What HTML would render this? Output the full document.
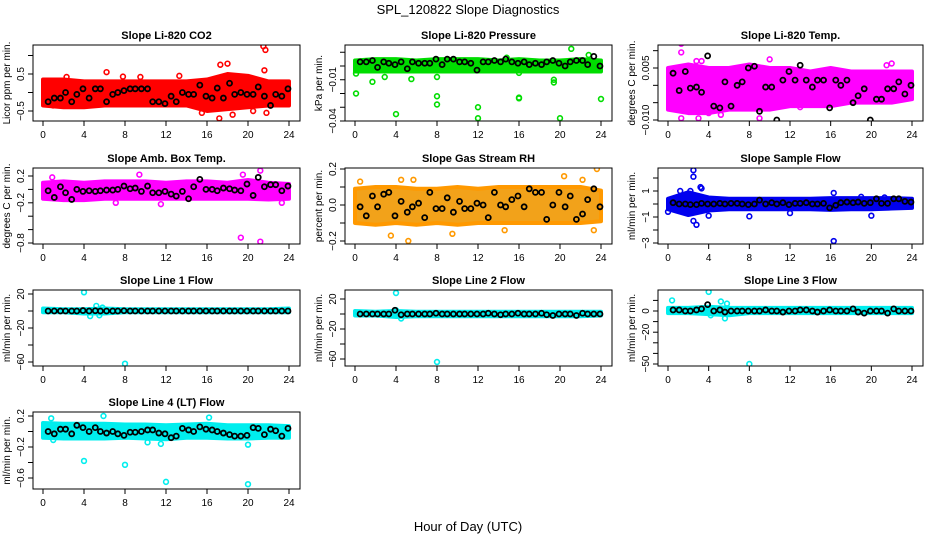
<!DOCTYPE html>
<html><head><meta charset="utf-8">
<style>
body{margin:0;background:#fff;}
svg{display:block;font-family:"Liberation Sans",sans-serif;}
</style></head>
<body>
<svg id="chart" width="936" height="540" viewBox="0 0 936 540">
<text x="468" y="14" text-anchor="middle" font-size="13">SPL_120822  Slope Diagnostics</text>
<text x="468" y="531" text-anchor="middle" font-size="13">Hour of Day (UTC)</text>
</svg>
<script>
const xTicks = [0,4,8,12,16,20,24];
const blackHours = [0.5,1.1,1.7,2.2,2.8,3.3,3.9,4.5,5.1,5.6,6.2,6.8,7.3,7.9,8.5,9.0,9.6,10.2,10.7,11.3,11.9,12.5,13.0,13.6,14.2,14.7,15.3,15.9,16.5,17.0,17.6,18.2,18.7,19.3,19.9,20.5,21.0,21.6,22.2,22.7,23.3,23.9];
const bandHours = [0,2,4,6,8,10,12,14,16,18,20,22,24];

const co2Black = [-0.25,-0.15,-0.15,0.0,-0.25,-0.05,0.1,-0.15,0.1,0.1,-0.25,-0.05,0.0,0.05,0.1,0.1,0.1,0.1,-0.25,-0.25,-0.3,-0.1,-0.25,0.0,-0.05,-0.05,0.2,-0.1,-0.15,0.12,-0.15,0.25,-0.05,0.0,-0.05,-0.05,0.15,-0.1,-0.35,-0.05,-0.1,0.1];
const co2Hi = [0.35,0.35,0.3,0.3,0.3,0.3,0.3,0.3,0.35,0.5,0.45,0.3,0.3];
const co2Lo = [-0.35,-0.4,-0.4,-0.35,-0.35,-0.35,-0.35,-0.35,-0.5,-0.45,-0.4,-0.35,-0.35];
const co2OutX = [6.2,21.5,21.7,17.2,15.5,18.5,17.3,18,21.6,20.5,21.8,13.3,9.5,2.3,7.8,1,4];
const co2OutY = [0.55,1.25,1.15,-0.7,-0.55,-0.6,0.75,0.78,0.6,-0.5,-0.55,0.45,0.42,0.42,0.43,-0.35,-0.3];

const presBlack = [0.003,0.003,0.004,-0.001,0.003,0.002,0.001,0.003,-0.002,0.003,0.002,0.002,0.002,0.005,0.001,0.005,0.005,0.003,0.003,0.002,-0.003,0.003,0.003,0.004,0.003,0.005,0.003,0.002,0.003,0.001,0.002,0.001,0.003,0.004,0.002,0.0,0.003,0.004,0.004,0.001,0.007,0.0];
const presHi = [0.004,0.005,0.005,0.004,0.005,0.005,0.005,0.004,0.005,0.004,0.004,0.005,0.004];
const presLo = [-0.004,-0.004,-0.004,-0.004,-0.004,-0.004,-0.004,-0.004,-0.004,-0.004,-0.004,-0.004,-0.004];
const presOutX = [0.1,0.1,1.7,2.9,4,5.5,8,8,8,12,12,16,16,19.4,19.4,20,21.1,22.8,24,14.8,16];
const presOutY = [-0.0055,-0.02,-0.0115,-0.008,-0.035,-0.0095,-0.022,-0.028,-0.008,-0.03,-0.038,-0.023,-0.0235,-0.01,-0.012,-0.038,0.0125,0.008,-0.024,0.006,-0.005];

const tempBlack = [0.0035,-0.0015,0.004,-0.0008,-0.0005,-0.002,0.0085,-0.006,-0.0065,0.001,-0.006,0.0,0.001,0.005,0.0055,-0.0075,-0.0005,-0.0005,-0.01,0.0015,0.004,0.0015,0.0058,0.0015,-0.0005,0.0015,0.0015,-0.0065,0.0015,0.0,0.0015,-0.005,-0.003,-0.001,-0.01,-0.004,-0.004,-0.001,-0.001,0.001,-0.0025,0.0];
const tempHi = [0.005,0.006,0.005,0.005,0.006,0.005,0.005,0.004,0.005,0.004,0.004,0.004,0.004];
const tempLo = [-0.007,-0.008,-0.008,-0.007,-0.007,-0.007,-0.006,-0.006,-0.006,-0.005,-0.005,-0.005,-0.004];
const tempOutX = [1.3,1.3,3.3,2.8,10,1.3,3,5.2,9,4,22,21.5,13];
const tempOutY = [0.012,0.0095,0.007,0.007,0.0075,-0.0095,-0.0095,-0.0085,-0.0095,-0.008,0.0063,0.0058,-0.0063];

const ambBlack = [-0.02,-0.12,0.04,-0.05,-0.15,0.0,-0.03,-0.02,-0.03,-0.02,-0.01,-0.01,0.0,0.05,0.01,0.02,-0.03,0.05,-0.05,-0.05,-0.03,-0.07,-0.1,-0.03,-0.14,0.04,0.15,0.0,0.0,-0.02,0.02,0.01,-0.01,-0.02,0.08,-0.09,0.18,0.04,0.07,0.07,-0.02,0.05];
const ambHi = [0.1,0.12,0.1,0.12,0.12,0.12,0.1,0.12,0.12,0.1,0.14,0.1,0.08];
const ambLo = [-0.14,-0.16,-0.16,-0.14,-0.14,-0.14,-0.14,-0.14,-0.14,-0.14,-0.14,-0.15,-0.14];
const ambOutX = [0.9,9.4,19.3,21.2,21.2,7.1,11.5,23.3,19.5];
const ambOutY = [0.18,0.22,-0.72,-0.78,0.28,-0.2,-0.22,-0.2,0.22];

const rhBlack = [-0.01,-0.06,0.05,-0.01,0.06,0.07,-0.06,0.02,-0.04,-0.01,0.01,-0.07,0.07,-0.02,-0.02,0.04,-0.04,0.02,-0.02,-0.02,0.01,0.0,-0.07,0.07,0.0,-0.01,0.03,0.05,-0.01,0.09,0.07,0.07,-0.08,0.0,0.07,-0.01,0.05,-0.08,-0.05,0.03,0.09,-0.01];
const rhHi = [0.09,0.1,0.1,0.09,0.09,0.1,0.09,0.1,0.1,0.1,0.1,0.1,0.08];
const rhLo = [-0.1,-0.11,-0.1,-0.11,-0.1,-0.11,-0.1,-0.1,-0.1,-0.1,-0.1,-0.1,-0.09];
const rhOutX = [0.5,3.5,5.2,9.5,14.6,23.6,20.4,22.2,5.7,4.5,23.3];
const rhOutY = [0.13,-0.17,-0.2,-0.16,-0.14,0.2,0.16,0.14,0.14,0.14,-0.14];

const flowBlack = [0.1,0.0,0.0,-0.05,-0.05,0.05,0.0,0.0,0.05,0.0,0.05,0.05,0.0,-0.05,0.0,0.3,0.0,0.1,0.0,0.1,-0.05,0.05,0.05,0.1,0.0,0.0,0.05,-0.3,-0.1,0.1,0.15,0.1,0.15,0.05,0.1,0.4,0.05,0.05,0.4,0.4,0.2,0.15];
const flowHi = [0.4,0.9,0.5,0.4,0.4,0.4,0.4,0.4,0.45,0.45,0.45,0.45,0.4];
const flowLo = [-0.4,-0.85,-0.5,-0.4,-0.4,-0.4,-0.4,-0.4,-0.45,-0.4,-0.4,-0.35,-0.3];
const flowOutX = [2.5,2.5,2.5,2.8,3.2,4,8,16.3,16.3,20,0,19,21.3,12,1.2,2.2,3.3];
const flowOutY = [2.6,2.1,-1.3,-1.6,1.3,-0.9,-0.95,-2.85,0.85,-0.9,-0.6,0.55,0.5,-0.7,1.0,1.0,1.2];

const l1Black = [0,0,0,0,0,0,0.5,0,0.3,0,0,0,0,0.3,0,0,0,0,0,0,0,0,0,0,0,0,0,0,0,0,0,0,0,0,0,0,0,0,0,0,0,0];
const l1Hi = [3,2,2,3,2,2,2,2,2,2,2,2,3];
const l1Lo = [-1.5,-1.5,-3,-3,-1.5,-1.5,-1.5,-1.5,-1.5,-1.5,-1.5,-1.5,-1.5];
const l1OutX = [4,5.2,5.8,4.6,5.5,8];
const l1OutY = [22,6,4,-6,-5,-62];

const l2Black = [0,0,0,0,0,0,5,-1,0,0,0,0,0,1,0,0,0,0,0,0,0,0,1,0,-1,0,0,1,0,0,0,1,-1,-2,0,0,0,-2,1,0,0,0];
const l2Hi = [4,3,4,3,3,3,3,3,3,3,3,3,3];
const l2Lo = [-2,-2,-4,-3,-3,-3,-3,-3,-3,-3,-3,-3,-2];
const l2OutX = [4,8,4.5,4];
const l2OutY = [28,-64,-6,5];

const l3Black = [1,1,0,0,1,2,6,0,1,-1,0,0,0,0,0,0,1,0,0,-1,0,0,1,1,0,-1,0,1,0,0,0,2,-1,-2,0,0,0,-2,2,0,0,0];
const l3Hi = [3,3,4,3,3,3,3,3,3,3,3,3,3];
const l3Lo = [-2,-2,-3,-4,-2,-2,-2,-2,-2,-2,-2,-2,-2];
const l3OutX = [0.4,4,5.2,5.8,5.6,4.2,8];
const l3OutY = [10,18,9,7,-7,-4,-50];

const l4Black = [0.0,-0.03,0.03,0.03,-0.03,0.08,0.05,0.0,0.05,0.0,-0.02,0.0,-0.03,-0.05,-0.01,-0.01,0.0,0.02,0.02,-0.02,-0.03,-0.08,-0.06,0.04,0.02,0.0,0.06,0.03,0.02,0.0,-0.02,-0.04,-0.06,-0.06,-0.05,0.05,0.04,-0.04,0.03,0.01,-0.06,0.04];
const l4Hi = [0.11,0.1,0.1,0.1,0.09,0.09,0.08,0.09,0.1,0.08,0.08,0.08,0.07];
const l4Lo = [-0.08,-0.09,-0.09,-0.09,-0.08,-0.09,-0.1,-0.08,-0.08,-0.09,-0.09,-0.08,-0.08];
const l4OutX = [0.8,5.9,16.2,4,8,12,20,1,10.2,11.5,20];
const l4OutY = [0.17,0.2,0.18,-0.38,-0.43,-0.65,-0.68,-0.11,-0.14,-0.16,-0.17];

const NS='http://www.w3.org/2000/svg';
const svg=document.getElementById('chart');
function mk(tag,attrs,parent){const e=document.createElementNS(NS,tag);for(const k in attrs)e.setAttribute(k,attrs[k]);(parent||svg).appendChild(e);return e;}

const cols=[[33,300],[345,612],[658,923]];
const rows=[[45,121],[168,244],[290,366],[412,489]];

const panels=[
 {slug:'co2',title:'Slope Li-820 CO2',ylab:'Licor ppm per min.',c:0,r:0,v1:0.5,p1:74,v2:-0.5,p2:111,ticks:[1,0.5,0,-0.5],labels:['','0.5','','\u22120.5'],color:'#ff0000',hi:co2Hi,lo:co2Lo,ox:co2OutX,oy:co2OutY,blk:co2Black},
 {slug:'pressure',title:'Slope Li-820 Pressure',ylab:'kPa per min.',c:1,r:0,v1:0,p1:66,v2:-0.04,p2:121,ticks:[0.01,0,-0.01,-0.02,-0.03,-0.04],labels:['','','\u22120.01','','','\u22120.04'],color:'#00dd00',hi:presHi,lo:presLo,ox:presOutX,oy:presOutY,blk:presBlack},
 {slug:'li820-temp',title:'Slope Li-820 Temp.',ylab:'degrees C per min.',c:2,r:0,v1:0.005,p1:68,v2:-0.01,p2:120,ticks:[0.01,0.005,0,-0.005,-0.01],labels:['','0.005','','','\u22120.010'],color:'#ff00ff',hi:tempHi,lo:tempLo,ox:tempOutX,oy:tempOutY,blk:tempBlack},
 {slug:'amb-box-temp',title:'Slope Amb. Box Temp.',ylab:'degrees C per min.',c:0,r:1,v1:0.2,p1:176,v2:-0.8,p2:243,ticks:[0.2,0,-0.2,-0.4,-0.6,-0.8],labels:['0.2','','\u22120.2','','','\u22120.8'],color:'#ff00ff',hi:ambHi,lo:ambLo,ox:ambOutX,oy:ambOutY,blk:ambBlack},
 {slug:'gas-stream-rh',title:'Slope Gas Stream RH',ylab:'percent per min.',c:1,r:1,v1:0.2,p1:169,v2:-0.2,p2:241,ticks:[0.2,0.1,0,-0.1,-0.2],labels:['0.2','','0.0','','\u22120.2'],color:'#f2a21a',stroke:'#ff9900',hi:rhHi,lo:rhLo,ox:rhOutX,oy:rhOutY,blk:rhBlack},
 {slug:'sample-flow',title:'Slope Sample Flow',ylab:'ml/min per min.',c:2,r:1,v1:1,p1:191,v2:-3,p2:243,ticks:[2,1,0,-1,-2,-3],labels:['','1','','\u22121','','\u22123'],color:'#0000ee',hi:flowHi,lo:flowLo,ox:flowOutX,oy:flowOutY,blk:flowBlack},
 {slug:'line1-flow',title:'Slope Line 1 Flow',ylab:'ml/min per min.',c:0,r:2,v1:20,p1:294,v2:-60,p2:362,ticks:[20,0,-20,-40,-60],labels:['20','','\u221220','','\u221260'],color:'#00eeee',hi:l1Hi,lo:l1Lo,ox:l1OutX,oy:l1OutY,blk:l1Black},
 {slug:'line2-flow',title:'Slope Line 2 Flow',ylab:'ml/min per min.',c:1,r:2,v1:20,p1:299,v2:-60,p2:359,ticks:[20,0,-20,-40,-60],labels:['20','','\u221220','','\u221260'],color:'#00eeee',hi:l2Hi,lo:l2Lo,ox:l2OutX,oy:l2OutY,blk:l2Black},
 {slug:'line3-flow',title:'Slope Line 3 Flow',ylab:'ml/min per min.',c:2,r:2,v1:0,p1:311,v2:-50,p2:364,ticks:[10,0,-10,-20,-30,-40,-50],labels:['','0','','\u221220','','','\u221250'],color:'#00eeee',hi:l3Hi,lo:l3Lo,ox:l3OutX,oy:l3OutY,blk:l3Black},
 {slug:'line4-flow',title:'Slope Line 4 (LT) Flow',ylab:'ml/min per min.',c:0,r:3,v1:0.2,p1:416,v2:-0.6,p2:478,ticks:[0.2,0,-0.2,-0.4,-0.6],labels:['0.2','','\u22120.2','','\u22120.6'],color:'#00eeee',hi:l4Hi,lo:l4Lo,ox:l4OutX,oy:l4OutY,blk:l4Black}
];

panels.forEach(p=>{
  const [L,R]=cols[p.c],[T,B]=rows[p.r];
  const x=h=>(L+10)+h*((R-11)-(L+10))/24;
  const y=v=>p.p1+(v-p.v1)*(p.p2-p.p1)/(p.v2-p.v1);
  const g=mk('g',{});
  
  
  const t=mk('text',{x:(L+R)/2,y:T-6,'text-anchor':'middle','font-size':'11','font-weight':'bold'},g);
  t.textContent=p.title;
  
  
  const cp='clip-'+p.slug;
  const cd=mk('clipPath',{id:cp},g);mk('rect',{x:L,y:T,width:R-L,height:B-T},cd);
  const dg=mk('g',{'clip-path':'url(#'+cp+')'},g);
  // band
  let d='';
  bandHours.forEach((h,i)=>{d+=(i?'L':'M')+x(h)+','+y(p.hi[i]);});
  for(let i=bandHours.length-1;i>=0;i--)d+='L'+x(bandHours[i])+','+y(p.lo[i]);
  const band=mk('path',{d:d+'Z',fill:p.color,stroke:p.stroke||p.color,'stroke-width':'4','stroke-linejoin':'round'},dg);
  
  
  p.ox.forEach((h,i)=>{
    const c=mk('circle',{cx:x(h),cy:y(p.oy[i]),r:2.4,fill:'none',stroke:p.stroke||p.color,'stroke-width':'1.6'},dg);
    
    
  });
  blackHours.forEach((h,i)=>{
    const c=mk('circle',{cx:x(h),cy:y(p.blk[i]),r:2.5,fill:'none',stroke:'#000','stroke-width':'1.8'},dg);
    
    
  });
  mk('rect',{x:L,y:T,width:R-L,height:B-T,fill:'none',stroke:'#000','stroke-width':'1'},g);
  // x ticks
  xTicks.forEach(h=>{
    mk('line',{x1:x(h),x2:x(h),y1:B,y2:B+5,stroke:'#000'},g);
    const lt=mk('text',{x:x(h),y:B+17,'text-anchor':'middle','font-size':'10'},g);
    lt.textContent=h;
    
    
  });
  p.ticks.forEach((v,i)=>{
    mk('line',{x1:L-5,x2:L,y1:y(v),y2:y(v),stroke:'#000'},g);
    if(p.labels[i]){
      const lt=mk('text',{x:0,y:0,'text-anchor':'middle','font-size':'10',transform:'translate('+(L-9)+','+y(v)+') rotate(-90)'},g);
      lt.textContent=p.labels[i];
      
      
    }
  });
  const yl=mk('text',{x:0,y:0,'text-anchor':'middle','font-size':'10',transform:'translate('+(L-23)+','+((T+B)/2)+') rotate(-90)'},g);
  yl.textContent=p.ylab;
  
  
});
</script>
</body></html>
